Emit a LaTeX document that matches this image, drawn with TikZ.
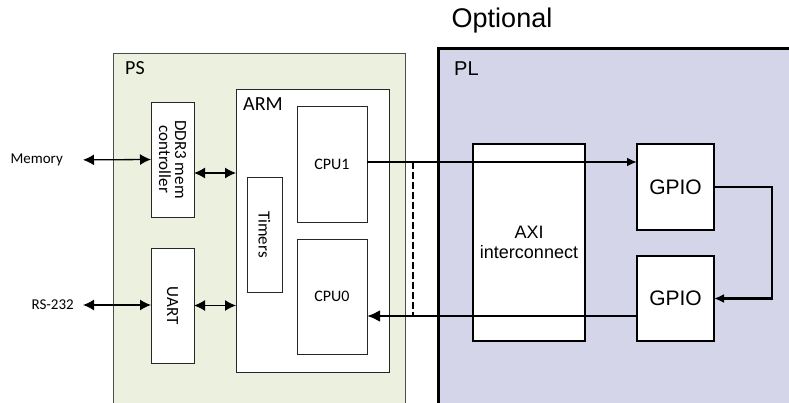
\documentclass[tikz,border=0pt]{standalone}
\usepackage{fontspec}
\setmainfont{Carlito}
\newfontfamily\arialfont{Liberation Sans}
\usetikzlibrary{arrows.meta}
\definecolor{psgreen}{HTML}{EBF1DE}
\definecolor{plblue}{HTML}{D5D5EA}
\begin{document}
\begin{tikzpicture}[x=1pt,y=-1pt]
	\tikzset{>={Latex[length=11pt,width=11pt]}}
	\tikzset{blk/.style={draw=black!85,line width=0.9pt,fill=white,inner sep=0,outer sep=0,anchor=north west,font=\fontsize{15}{17}\selectfont},
		fblk/.style={draw=black,line width=2.4pt,fill=white,inner sep=0,outer sep=0,anchor=north west,font=\arialfont\fontsize{18}{20}\selectfont},
		link/.style={<->,line width=1.3pt},
		bus/.style={line width=2.8pt}}
	\useasboundingbox (0,0) rectangle (789,403);
	\clip (0,0) rectangle (789,403);
	
	% regions
	\node[blk,draw=black!70,fill=psgreen,minimum width=292,minimum height=380] (ps) at (113,53) {};
	\node[anchor=north west,inner sep=0,font=\fontsize{20}{22}\selectfont] (pslbl) at (125,61) {PS};
	\node[draw=black,line width=3pt,fill=plblue,inner sep=0,outer sep=0,anchor=north west,minimum width=380,minimum height=380] (pl) at (438,49) {};
	\node[anchor=north west,inner sep=0,font=\arialfont\fontsize{20}{22}\selectfont] (pllbl) at (454,62) {PL};
	\node[inner sep=0,font=\arialfont\fontsize{27}{29}\selectfont] (opt) at (502,21) {Optional};
	
	% PS side
	\node[blk,minimum width=43,minimum height=115] (ddr) at (151,102) {};
	\node[rotate=-90,align=center,font=\fontsize{17}{16}\selectfont] at (ddr.center) {DDR3 mem\\controller};
	\node[blk,minimum width=43,minimum height=115] (uart) at (151,248) {};
	\node[rotate=-90,font=\fontsize{17}{19}\selectfont] at (uart.center) {UART};
	\node[blk,minimum width=153,minimum height=283] (arm) at (236,89) {};
	\node[anchor=north west,inner sep=0,font=\fontsize{20}{22}\selectfont] (armlbl) at (243,97) {ARM};
	\node[blk,minimum width=35,minimum height=115] (tmr) at (247,177) {};
	\node[rotate=-90,font=\fontsize{17}{19}\selectfont] at (tmr.center) {Timers};
	\node[blk,minimum width=70,minimum height=116] (cpu1) at (297,106) {};
	\node[font=\fontsize{16}{18}\selectfont] at (cpu1.center) {CPU1};
	\node[blk,minimum width=70,minimum height=115] (cpu0) at (297,239) {};
	\node[font=\fontsize{16}{18}\selectfont] at (cpu0.center) {CPU0};
	
	\node[anchor=east,inner sep=0,font=\fontsize{15}{17}\selectfont] (mem) at (63,160) {Memory};
	\node[anchor=east,inner sep=0,font=\fontsize{15}{17}\selectfont] (rs) at (74,305) {RS-232};
	
	\draw[link,shorten <=20pt] (mem.east) -- (ddr.west);
	\draw[link,shorten <=9pt] (rs.east) -- (rs.east -| uart.west);
	\draw[link] ([yshift=-13.5pt]ddr.east) -- ([yshift=-13.5pt]ddr.east -| arm.west);
	\draw[link] (uart.east) -- (uart.east -| arm.west);
	
	% PL side
	\node[fblk,minimum width=112,minimum height=197,align=center] (axi) at (473,144) {AXI\\interconnect};
	\node[fblk,minimum width=77,minimum height=86,font=\arialfont\fontsize{21}{23}\selectfont] (gpio1) at (637,144) {GPIO};
	\node[fblk,minimum width=77,minimum height=85,font=\arialfont\fontsize{21}{23}\selectfont] (gpio2) at (637,256) {GPIO};
	
	\coordinate (top) at ([yshift=2pt]cpu1.east);
	\coordinate (bot) at ([yshift=-17.5pt]gpio2.west);
	\draw[bus,-{Latex[length=10pt,width=9pt]}] (top) -- (top -| gpio1.west);
	\draw[bus,-{Latex[length=13pt,width=12pt]}] (bot) -- (bot -| cpu0.east);
	\draw[bus,-{Latex[length=10pt,width=9pt]}] (gpio1.east) -- ++(58,0) |- (gpio2.east);
	\draw[line width=2.2pt,dash pattern=on 7pt off 3pt] (top -| 413,0) -- (bot -| 413,0);
	
\end{tikzpicture}
\end{document}
